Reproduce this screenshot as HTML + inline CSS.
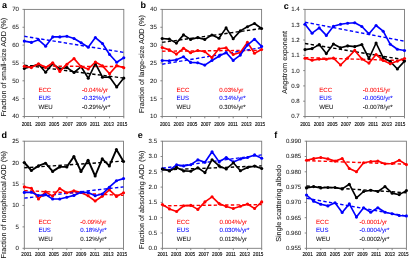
<!DOCTYPE html>
<html><head><meta charset="utf-8"><style>
html,body{margin:0;padding:0;background:#fff;}
body{width:409px;height:258px;overflow:hidden;position:relative;font-family:"Liberation Sans", sans-serif;}
svg text{font-family:"Liberation Sans", sans-serif;text-rendering:geometricPrecision;}
svg{filter:blur(0.3px);}
</style></head><body>
<svg width="409" height="258" viewBox="0 0 409 258" style="position:absolute;left:0;top:0">
<rect width="409" height="258" fill="#fff"/>
<rect x="24.3" y="9.4" width="99.50" height="107.10" fill="none" stroke="#7a7a7a" stroke-width="0.9"/>
<line x1="22.50" y1="9.40" x2="24.3" y2="9.40" stroke="#7a7a7a" stroke-width="0.9"/>
<text x="19.00" y="11.30" font-size="6.1" text-anchor="end" fill="#222" stroke="#222" stroke-width="0.05">70</text>
<line x1="22.50" y1="27.25" x2="24.3" y2="27.25" stroke="#7a7a7a" stroke-width="0.9"/>
<text x="19.00" y="29.15" font-size="6.1" text-anchor="end" fill="#222" stroke="#222" stroke-width="0.05">65</text>
<line x1="22.50" y1="45.10" x2="24.3" y2="45.10" stroke="#7a7a7a" stroke-width="0.9"/>
<text x="19.00" y="47.00" font-size="6.1" text-anchor="end" fill="#222" stroke="#222" stroke-width="0.05">60</text>
<line x1="22.50" y1="62.95" x2="24.3" y2="62.95" stroke="#7a7a7a" stroke-width="0.9"/>
<text x="19.00" y="64.85" font-size="6.1" text-anchor="end" fill="#222" stroke="#222" stroke-width="0.05">55</text>
<line x1="22.50" y1="80.80" x2="24.3" y2="80.80" stroke="#7a7a7a" stroke-width="0.9"/>
<text x="19.00" y="82.70" font-size="6.1" text-anchor="end" fill="#222" stroke="#222" stroke-width="0.05">50</text>
<line x1="22.50" y1="98.65" x2="24.3" y2="98.65" stroke="#7a7a7a" stroke-width="0.9"/>
<text x="19.00" y="100.55" font-size="6.1" text-anchor="end" fill="#222" stroke="#222" stroke-width="0.05">45</text>
<line x1="22.50" y1="116.50" x2="24.3" y2="116.50" stroke="#7a7a7a" stroke-width="0.9"/>
<text x="19.00" y="118.40" font-size="6.1" text-anchor="end" fill="#222" stroke="#222" stroke-width="0.05">40</text>
<line x1="24.30" y1="116.5" x2="24.30" y2="118.30" stroke="#7a7a7a" stroke-width="0.9"/>
<line x1="38.51" y1="116.5" x2="38.51" y2="118.30" stroke="#7a7a7a" stroke-width="0.9"/>
<line x1="52.73" y1="116.5" x2="52.73" y2="118.30" stroke="#7a7a7a" stroke-width="0.9"/>
<line x1="66.94" y1="116.5" x2="66.94" y2="118.30" stroke="#7a7a7a" stroke-width="0.9"/>
<line x1="81.16" y1="116.5" x2="81.16" y2="118.30" stroke="#7a7a7a" stroke-width="0.9"/>
<line x1="95.37" y1="116.5" x2="95.37" y2="118.30" stroke="#7a7a7a" stroke-width="0.9"/>
<line x1="109.59" y1="116.5" x2="109.59" y2="118.30" stroke="#7a7a7a" stroke-width="0.9"/>
<line x1="123.80" y1="116.5" x2="123.80" y2="118.30" stroke="#7a7a7a" stroke-width="0.9"/>
<text transform="translate(26.80,125.6) scale(0.86,1)" font-size="5.4" text-anchor="middle" fill="#000" stroke="#000" stroke-width="0.12" style="text-rendering:optimizeLegibility">2001</text>
<text transform="translate(40.43,125.6) scale(0.86,1)" font-size="5.4" text-anchor="middle" fill="#000" stroke="#000" stroke-width="0.12" style="text-rendering:optimizeLegibility">2003</text>
<text transform="translate(54.06,125.6) scale(0.86,1)" font-size="5.4" text-anchor="middle" fill="#000" stroke="#000" stroke-width="0.12" style="text-rendering:optimizeLegibility">2005</text>
<text transform="translate(67.69,125.6) scale(0.86,1)" font-size="5.4" text-anchor="middle" fill="#000" stroke="#000" stroke-width="0.12" style="text-rendering:optimizeLegibility">2007</text>
<text transform="translate(81.32,125.6) scale(0.86,1)" font-size="5.4" text-anchor="middle" fill="#000" stroke="#000" stroke-width="0.12" style="text-rendering:optimizeLegibility">2009</text>
<text transform="translate(94.95,125.6) scale(0.86,1)" font-size="5.4" text-anchor="middle" fill="#000" stroke="#000" stroke-width="0.12" style="text-rendering:optimizeLegibility">2011</text>
<text transform="translate(108.58,125.6) scale(0.86,1)" font-size="5.4" text-anchor="middle" fill="#000" stroke="#000" stroke-width="0.12" style="text-rendering:optimizeLegibility">2013</text>
<text transform="translate(122.21,125.6) scale(0.86,1)" font-size="5.4" text-anchor="middle" fill="#000" stroke="#000" stroke-width="0.12" style="text-rendering:optimizeLegibility">2015</text>
<text transform="translate(6.00,116.60) rotate(-90)" font-size="7.22" fill="#222" stroke="#222" stroke-width="0.08">Fraction of small-size AOD (%)</text>
<line x1="24.30" y1="66.0" x2="123.80" y2="66.6" stroke="#ff0000" stroke-width="1.4" stroke-dasharray="3.4 2.3"/>
<line x1="24.30" y1="36.3" x2="123.80" y2="52.4" stroke="#0000ff" stroke-width="1.4" stroke-dasharray="3.4 2.3"/>
<line x1="24.30" y1="65.2" x2="123.80" y2="78.1" stroke="#000000" stroke-width="1.4" stroke-dasharray="3.4 2.3"/>
<polyline points="24.30,41.10 31.41,42.40 38.51,39.80 45.62,46.20 52.73,36.90 59.84,36.90 66.94,36.30 74.05,38.50 81.16,42.80 88.26,47.20 95.37,37.60 102.48,43.50 109.59,54.50 116.69,62.20 123.80,57.80" fill="none" stroke="#0000ff" stroke-width="1.65" stroke-linejoin="round"/>
<circle cx="24.30" cy="41.10" r="1.55" fill="#0000ff"/>
<circle cx="31.41" cy="42.40" r="1.55" fill="#0000ff"/>
<circle cx="38.51" cy="39.80" r="1.55" fill="#0000ff"/>
<circle cx="45.62" cy="46.20" r="1.55" fill="#0000ff"/>
<circle cx="52.73" cy="36.90" r="1.55" fill="#0000ff"/>
<circle cx="59.84" cy="36.90" r="1.55" fill="#0000ff"/>
<circle cx="66.94" cy="36.30" r="1.55" fill="#0000ff"/>
<circle cx="74.05" cy="38.50" r="1.55" fill="#0000ff"/>
<circle cx="81.16" cy="42.80" r="1.55" fill="#0000ff"/>
<circle cx="88.26" cy="47.20" r="1.55" fill="#0000ff"/>
<circle cx="95.37" cy="37.60" r="1.55" fill="#0000ff"/>
<circle cx="102.48" cy="43.50" r="1.55" fill="#0000ff"/>
<circle cx="109.59" cy="54.50" r="1.55" fill="#0000ff"/>
<circle cx="116.69" cy="62.20" r="1.55" fill="#0000ff"/>
<circle cx="123.80" cy="57.80" r="1.55" fill="#0000ff"/>
<polyline points="24.30,68.50 31.41,66.50 38.51,64.30 45.62,72.30 52.73,63.80 59.84,68.80 66.94,67.60 74.05,72.50 81.16,66.70 88.26,78.30 95.37,63.50 102.48,77.20 109.59,77.00 116.69,86.90 123.80,78.10" fill="none" stroke="#000000" stroke-width="1.65" stroke-linejoin="round"/>
<circle cx="24.30" cy="68.50" r="1.55" fill="#000000"/>
<circle cx="31.41" cy="66.50" r="1.55" fill="#000000"/>
<circle cx="38.51" cy="64.30" r="1.55" fill="#000000"/>
<circle cx="45.62" cy="72.30" r="1.55" fill="#000000"/>
<circle cx="52.73" cy="63.80" r="1.55" fill="#000000"/>
<circle cx="59.84" cy="68.80" r="1.55" fill="#000000"/>
<circle cx="66.94" cy="67.60" r="1.55" fill="#000000"/>
<circle cx="74.05" cy="72.50" r="1.55" fill="#000000"/>
<circle cx="81.16" cy="66.70" r="1.55" fill="#000000"/>
<circle cx="88.26" cy="78.30" r="1.55" fill="#000000"/>
<circle cx="95.37" cy="63.50" r="1.55" fill="#000000"/>
<circle cx="102.48" cy="77.20" r="1.55" fill="#000000"/>
<circle cx="109.59" cy="77.00" r="1.55" fill="#000000"/>
<circle cx="116.69" cy="86.90" r="1.55" fill="#000000"/>
<circle cx="123.80" cy="78.10" r="1.55" fill="#000000"/>
<polyline points="24.30,66.30 31.41,67.60 38.51,63.80 45.62,67.60 52.73,62.80 59.84,71.40 66.94,64.20 74.05,58.60 81.16,66.70 88.26,69.00 95.37,62.00 102.48,65.90 109.59,73.80 116.69,65.60 123.80,67.80" fill="none" stroke="#ff0000" stroke-width="1.65" stroke-linejoin="round"/>
<circle cx="24.30" cy="66.30" r="1.55" fill="#ff0000"/>
<circle cx="31.41" cy="67.60" r="1.55" fill="#ff0000"/>
<circle cx="38.51" cy="63.80" r="1.55" fill="#ff0000"/>
<circle cx="45.62" cy="67.60" r="1.55" fill="#ff0000"/>
<circle cx="52.73" cy="62.80" r="1.55" fill="#ff0000"/>
<circle cx="59.84" cy="71.40" r="1.55" fill="#ff0000"/>
<circle cx="66.94" cy="64.20" r="1.55" fill="#ff0000"/>
<circle cx="74.05" cy="58.60" r="1.55" fill="#ff0000"/>
<circle cx="81.16" cy="66.70" r="1.55" fill="#ff0000"/>
<circle cx="88.26" cy="69.00" r="1.55" fill="#ff0000"/>
<circle cx="95.37" cy="62.00" r="1.55" fill="#ff0000"/>
<circle cx="102.48" cy="65.90" r="1.55" fill="#ff0000"/>
<circle cx="109.59" cy="73.80" r="1.55" fill="#ff0000"/>
<circle cx="116.69" cy="65.60" r="1.55" fill="#ff0000"/>
<circle cx="123.80" cy="67.80" r="1.55" fill="#ff0000"/>
<text x="38.4" y="91.50" font-size="6.1" fill="#ff0000" stroke="#ff0000" stroke-width="0.05">ECC</text>
<text x="82.0" y="91.50" font-size="6.1" fill="#ff0000" stroke="#ff0000" stroke-width="0.05">-0.04%/yr</text>
<text x="38.4" y="100.00" font-size="6.1" fill="#0000ff" stroke="#0000ff" stroke-width="0.05">EUS</text>
<text x="82.0" y="100.00" font-size="6.1" fill="#0000ff" stroke="#0000ff" stroke-width="0.05">-0.32%/yr*</text>
<text x="38.4" y="108.50" font-size="6.1" fill="#111" stroke="#111" stroke-width="0.05">WEU</text>
<text x="82.0" y="108.50" font-size="6.1" fill="#111" stroke="#111" stroke-width="0.05">-0.29%/yr*</text>
<text x="1.9" y="8.45" font-size="9.0" font-weight="bold" fill="#000">a</text>
<rect x="162.2" y="9.4" width="99.40" height="107.10" fill="none" stroke="#7a7a7a" stroke-width="0.9"/>
<line x1="160.40" y1="9.40" x2="162.2" y2="9.40" stroke="#7a7a7a" stroke-width="0.9"/>
<text x="156.90" y="11.30" font-size="6.1" text-anchor="end" fill="#222" stroke="#222" stroke-width="0.05">40</text>
<line x1="160.40" y1="27.25" x2="162.2" y2="27.25" stroke="#7a7a7a" stroke-width="0.9"/>
<text x="156.90" y="29.15" font-size="6.1" text-anchor="end" fill="#222" stroke="#222" stroke-width="0.05">35</text>
<line x1="160.40" y1="45.10" x2="162.2" y2="45.10" stroke="#7a7a7a" stroke-width="0.9"/>
<text x="156.90" y="47.00" font-size="6.1" text-anchor="end" fill="#222" stroke="#222" stroke-width="0.05">30</text>
<line x1="160.40" y1="62.95" x2="162.2" y2="62.95" stroke="#7a7a7a" stroke-width="0.9"/>
<text x="156.90" y="64.85" font-size="6.1" text-anchor="end" fill="#222" stroke="#222" stroke-width="0.05">25</text>
<line x1="160.40" y1="80.80" x2="162.2" y2="80.80" stroke="#7a7a7a" stroke-width="0.9"/>
<text x="156.90" y="82.70" font-size="6.1" text-anchor="end" fill="#222" stroke="#222" stroke-width="0.05">20</text>
<line x1="160.40" y1="98.65" x2="162.2" y2="98.65" stroke="#7a7a7a" stroke-width="0.9"/>
<text x="156.90" y="100.55" font-size="6.1" text-anchor="end" fill="#222" stroke="#222" stroke-width="0.05">15</text>
<line x1="160.40" y1="116.50" x2="162.2" y2="116.50" stroke="#7a7a7a" stroke-width="0.9"/>
<text x="156.90" y="118.40" font-size="6.1" text-anchor="end" fill="#222" stroke="#222" stroke-width="0.05">10</text>
<line x1="162.20" y1="116.5" x2="162.20" y2="118.30" stroke="#7a7a7a" stroke-width="0.9"/>
<line x1="176.40" y1="116.5" x2="176.40" y2="118.30" stroke="#7a7a7a" stroke-width="0.9"/>
<line x1="190.60" y1="116.5" x2="190.60" y2="118.30" stroke="#7a7a7a" stroke-width="0.9"/>
<line x1="204.80" y1="116.5" x2="204.80" y2="118.30" stroke="#7a7a7a" stroke-width="0.9"/>
<line x1="219.00" y1="116.5" x2="219.00" y2="118.30" stroke="#7a7a7a" stroke-width="0.9"/>
<line x1="233.20" y1="116.5" x2="233.20" y2="118.30" stroke="#7a7a7a" stroke-width="0.9"/>
<line x1="247.40" y1="116.5" x2="247.40" y2="118.30" stroke="#7a7a7a" stroke-width="0.9"/>
<line x1="261.60" y1="116.5" x2="261.60" y2="118.30" stroke="#7a7a7a" stroke-width="0.9"/>
<text transform="translate(165.10,125.6) scale(0.86,1)" font-size="5.4" text-anchor="middle" fill="#000" stroke="#000" stroke-width="0.12" style="text-rendering:optimizeLegibility">2001</text>
<text transform="translate(178.66,125.6) scale(0.86,1)" font-size="5.4" text-anchor="middle" fill="#000" stroke="#000" stroke-width="0.12" style="text-rendering:optimizeLegibility">2003</text>
<text transform="translate(192.22,125.6) scale(0.86,1)" font-size="5.4" text-anchor="middle" fill="#000" stroke="#000" stroke-width="0.12" style="text-rendering:optimizeLegibility">2005</text>
<text transform="translate(205.78,125.6) scale(0.86,1)" font-size="5.4" text-anchor="middle" fill="#000" stroke="#000" stroke-width="0.12" style="text-rendering:optimizeLegibility">2007</text>
<text transform="translate(219.34,125.6) scale(0.86,1)" font-size="5.4" text-anchor="middle" fill="#000" stroke="#000" stroke-width="0.12" style="text-rendering:optimizeLegibility">2009</text>
<text transform="translate(232.90,125.6) scale(0.86,1)" font-size="5.4" text-anchor="middle" fill="#000" stroke="#000" stroke-width="0.12" style="text-rendering:optimizeLegibility">2011</text>
<text transform="translate(246.46,125.6) scale(0.86,1)" font-size="5.4" text-anchor="middle" fill="#000" stroke="#000" stroke-width="0.12" style="text-rendering:optimizeLegibility">2013</text>
<text transform="translate(260.02,125.6) scale(0.86,1)" font-size="5.4" text-anchor="middle" fill="#000" stroke="#000" stroke-width="0.12" style="text-rendering:optimizeLegibility">2015</text>
<text transform="translate(144.30,113.10) rotate(-90)" font-size="7.22" fill="#222" stroke="#222" stroke-width="0.08">Fraction of large-size AOD (%)</text>
<line x1="162.20" y1="51.2" x2="261.60" y2="50.3" stroke="#ff0000" stroke-width="1.4" stroke-dasharray="3.4 2.3"/>
<line x1="162.20" y1="64.2" x2="261.60" y2="47.6" stroke="#0000ff" stroke-width="1.4" stroke-dasharray="3.4 2.3"/>
<line x1="162.20" y1="42.4" x2="261.60" y2="28.5" stroke="#000000" stroke-width="1.4" stroke-dasharray="3.4 2.3"/>
<polyline points="162.20,38.50 169.30,39.10 176.40,43.10 183.50,34.90 190.60,39.40 197.70,37.60 204.80,39.40 211.90,35.00 219.00,38.20 226.10,27.90 233.20,38.80 240.30,30.90 247.40,26.80 254.50,23.50 261.60,28.50" fill="none" stroke="#000000" stroke-width="1.65" stroke-linejoin="round"/>
<circle cx="162.20" cy="38.50" r="1.55" fill="#000000"/>
<circle cx="169.30" cy="39.10" r="1.55" fill="#000000"/>
<circle cx="176.40" cy="43.10" r="1.55" fill="#000000"/>
<circle cx="183.50" cy="34.90" r="1.55" fill="#000000"/>
<circle cx="190.60" cy="39.40" r="1.55" fill="#000000"/>
<circle cx="197.70" cy="37.60" r="1.55" fill="#000000"/>
<circle cx="204.80" cy="39.40" r="1.55" fill="#000000"/>
<circle cx="211.90" cy="35.00" r="1.55" fill="#000000"/>
<circle cx="219.00" cy="38.20" r="1.55" fill="#000000"/>
<circle cx="226.10" cy="27.90" r="1.55" fill="#000000"/>
<circle cx="233.20" cy="38.80" r="1.55" fill="#000000"/>
<circle cx="240.30" cy="30.90" r="1.55" fill="#000000"/>
<circle cx="247.40" cy="26.80" r="1.55" fill="#000000"/>
<circle cx="254.50" cy="23.50" r="1.55" fill="#000000"/>
<circle cx="261.60" cy="28.50" r="1.55" fill="#000000"/>
<polyline points="162.20,47.50 169.30,49.90 176.40,54.10 183.50,48.30 190.60,52.80 197.70,50.50 204.80,51.60 211.90,57.60 219.00,48.80 226.10,47.90 233.20,54.50 240.30,52.50 247.40,42.40 254.50,53.20 261.60,49.50" fill="none" stroke="#ff0000" stroke-width="1.65" stroke-linejoin="round"/>
<circle cx="162.20" cy="47.50" r="1.55" fill="#ff0000"/>
<circle cx="169.30" cy="49.90" r="1.55" fill="#ff0000"/>
<circle cx="176.40" cy="54.10" r="1.55" fill="#ff0000"/>
<circle cx="183.50" cy="48.30" r="1.55" fill="#ff0000"/>
<circle cx="190.60" cy="52.80" r="1.55" fill="#ff0000"/>
<circle cx="197.70" cy="50.50" r="1.55" fill="#ff0000"/>
<circle cx="204.80" cy="51.60" r="1.55" fill="#ff0000"/>
<circle cx="211.90" cy="57.60" r="1.55" fill="#ff0000"/>
<circle cx="219.00" cy="48.80" r="1.55" fill="#ff0000"/>
<circle cx="226.10" cy="47.90" r="1.55" fill="#ff0000"/>
<circle cx="233.20" cy="54.50" r="1.55" fill="#ff0000"/>
<circle cx="240.30" cy="52.50" r="1.55" fill="#ff0000"/>
<circle cx="247.40" cy="42.40" r="1.55" fill="#ff0000"/>
<circle cx="254.50" cy="53.20" r="1.55" fill="#ff0000"/>
<circle cx="261.60" cy="49.50" r="1.55" fill="#ff0000"/>
<polyline points="162.20,60.50 169.30,60.70 176.40,59.80 183.50,56.80 190.60,62.40 197.70,62.80 204.80,65.10 211.90,60.50 219.00,56.20 226.10,52.50 233.20,60.40 240.30,55.10 247.40,45.10 254.50,39.20 261.60,46.40" fill="none" stroke="#0000ff" stroke-width="1.65" stroke-linejoin="round"/>
<circle cx="162.20" cy="60.50" r="1.55" fill="#0000ff"/>
<circle cx="169.30" cy="60.70" r="1.55" fill="#0000ff"/>
<circle cx="176.40" cy="59.80" r="1.55" fill="#0000ff"/>
<circle cx="183.50" cy="56.80" r="1.55" fill="#0000ff"/>
<circle cx="190.60" cy="62.40" r="1.55" fill="#0000ff"/>
<circle cx="197.70" cy="62.80" r="1.55" fill="#0000ff"/>
<circle cx="204.80" cy="65.10" r="1.55" fill="#0000ff"/>
<circle cx="211.90" cy="60.50" r="1.55" fill="#0000ff"/>
<circle cx="219.00" cy="56.20" r="1.55" fill="#0000ff"/>
<circle cx="226.10" cy="52.50" r="1.55" fill="#0000ff"/>
<circle cx="233.20" cy="60.40" r="1.55" fill="#0000ff"/>
<circle cx="240.30" cy="55.10" r="1.55" fill="#0000ff"/>
<circle cx="247.40" cy="45.10" r="1.55" fill="#0000ff"/>
<circle cx="254.50" cy="39.20" r="1.55" fill="#0000ff"/>
<circle cx="261.60" cy="46.40" r="1.55" fill="#0000ff"/>
<text x="176.5" y="91.50" font-size="6.1" fill="#ff0000" stroke="#ff0000" stroke-width="0.05">ECC</text>
<text x="219.2" y="91.50" font-size="6.1" fill="#ff0000" stroke="#ff0000" stroke-width="0.05">0.03%/yr</text>
<text x="176.5" y="100.00" font-size="6.1" fill="#0000ff" stroke="#0000ff" stroke-width="0.05">EUS</text>
<text x="219.2" y="100.00" font-size="6.1" fill="#0000ff" stroke="#0000ff" stroke-width="0.05">0.34%/yr*</text>
<text x="176.5" y="108.50" font-size="6.1" fill="#111" stroke="#111" stroke-width="0.05">WEU</text>
<text x="219.2" y="108.50" font-size="6.1" fill="#111" stroke="#111" stroke-width="0.05">0.30%/yr*</text>
<text x="140.6" y="8.2" font-size="9.0" font-weight="bold" fill="#000">b</text>
<rect x="305.0" y="9.4" width="99.50" height="107.10" fill="none" stroke="#7a7a7a" stroke-width="0.9"/>
<line x1="303.20" y1="9.40" x2="305.0" y2="9.40" stroke="#7a7a7a" stroke-width="0.9"/>
<text x="299.70" y="11.30" font-size="6.1" text-anchor="end" fill="#222" stroke="#222" stroke-width="0.05">1.4</text>
<line x1="303.20" y1="24.70" x2="305.0" y2="24.70" stroke="#7a7a7a" stroke-width="0.9"/>
<text x="299.70" y="26.60" font-size="6.1" text-anchor="end" fill="#222" stroke="#222" stroke-width="0.05">1.3</text>
<line x1="303.20" y1="40.00" x2="305.0" y2="40.00" stroke="#7a7a7a" stroke-width="0.9"/>
<text x="299.70" y="41.90" font-size="6.1" text-anchor="end" fill="#222" stroke="#222" stroke-width="0.05">1.2</text>
<line x1="303.20" y1="55.30" x2="305.0" y2="55.30" stroke="#7a7a7a" stroke-width="0.9"/>
<text x="299.70" y="57.20" font-size="6.1" text-anchor="end" fill="#222" stroke="#222" stroke-width="0.05">1.1</text>
<line x1="303.20" y1="70.60" x2="305.0" y2="70.60" stroke="#7a7a7a" stroke-width="0.9"/>
<text x="299.70" y="72.50" font-size="6.1" text-anchor="end" fill="#222" stroke="#222" stroke-width="0.05">1.0</text>
<line x1="303.20" y1="85.90" x2="305.0" y2="85.90" stroke="#7a7a7a" stroke-width="0.9"/>
<text x="299.70" y="87.80" font-size="6.1" text-anchor="end" fill="#222" stroke="#222" stroke-width="0.05">0.9</text>
<line x1="303.20" y1="101.20" x2="305.0" y2="101.20" stroke="#7a7a7a" stroke-width="0.9"/>
<text x="299.70" y="103.10" font-size="6.1" text-anchor="end" fill="#222" stroke="#222" stroke-width="0.05">0.8</text>
<line x1="303.20" y1="116.50" x2="305.0" y2="116.50" stroke="#7a7a7a" stroke-width="0.9"/>
<text x="299.70" y="118.40" font-size="6.1" text-anchor="end" fill="#222" stroke="#222" stroke-width="0.05">0.7</text>
<line x1="305.00" y1="116.5" x2="305.00" y2="118.30" stroke="#7a7a7a" stroke-width="0.9"/>
<line x1="319.21" y1="116.5" x2="319.21" y2="118.30" stroke="#7a7a7a" stroke-width="0.9"/>
<line x1="333.43" y1="116.5" x2="333.43" y2="118.30" stroke="#7a7a7a" stroke-width="0.9"/>
<line x1="347.64" y1="116.5" x2="347.64" y2="118.30" stroke="#7a7a7a" stroke-width="0.9"/>
<line x1="361.86" y1="116.5" x2="361.86" y2="118.30" stroke="#7a7a7a" stroke-width="0.9"/>
<line x1="376.07" y1="116.5" x2="376.07" y2="118.30" stroke="#7a7a7a" stroke-width="0.9"/>
<line x1="390.29" y1="116.5" x2="390.29" y2="118.30" stroke="#7a7a7a" stroke-width="0.9"/>
<line x1="404.50" y1="116.5" x2="404.50" y2="118.30" stroke="#7a7a7a" stroke-width="0.9"/>
<text transform="translate(305.30,125.6) scale(0.86,1)" font-size="5.4" text-anchor="middle" fill="#000" stroke="#000" stroke-width="0.12" style="text-rendering:optimizeLegibility">2001</text>
<text transform="translate(318.86,125.6) scale(0.86,1)" font-size="5.4" text-anchor="middle" fill="#000" stroke="#000" stroke-width="0.12" style="text-rendering:optimizeLegibility">2003</text>
<text transform="translate(332.42,125.6) scale(0.86,1)" font-size="5.4" text-anchor="middle" fill="#000" stroke="#000" stroke-width="0.12" style="text-rendering:optimizeLegibility">2005</text>
<text transform="translate(345.98,125.6) scale(0.86,1)" font-size="5.4" text-anchor="middle" fill="#000" stroke="#000" stroke-width="0.12" style="text-rendering:optimizeLegibility">2007</text>
<text transform="translate(359.54,125.6) scale(0.86,1)" font-size="5.4" text-anchor="middle" fill="#000" stroke="#000" stroke-width="0.12" style="text-rendering:optimizeLegibility">2009</text>
<text transform="translate(373.10,125.6) scale(0.86,1)" font-size="5.4" text-anchor="middle" fill="#000" stroke="#000" stroke-width="0.12" style="text-rendering:optimizeLegibility">2011</text>
<text transform="translate(386.66,125.6) scale(0.86,1)" font-size="5.4" text-anchor="middle" fill="#000" stroke="#000" stroke-width="0.12" style="text-rendering:optimizeLegibility">2013</text>
<text transform="translate(400.22,125.6) scale(0.86,1)" font-size="5.4" text-anchor="middle" fill="#000" stroke="#000" stroke-width="0.12" style="text-rendering:optimizeLegibility">2015</text>
<text transform="translate(286.80,93.70) rotate(-90)" font-size="7.22" fill="#222" stroke="#222" stroke-width="0.08">Angstrom exponent</text>
<line x1="305.00" y1="57.6" x2="404.50" y2="60.6" stroke="#ff0000" stroke-width="1.4" stroke-dasharray="3.4 2.3"/>
<line x1="305.00" y1="22.2" x2="404.50" y2="41.2" stroke="#0000ff" stroke-width="1.4" stroke-dasharray="3.4 2.3"/>
<line x1="305.00" y1="43.5" x2="404.50" y2="59.8" stroke="#000000" stroke-width="1.4" stroke-dasharray="3.4 2.3"/>
<polyline points="305.00,24.30 312.11,33.20 319.21,27.90 326.32,35.40 333.43,26.20 340.54,24.20 347.64,23.20 354.75,22.80 361.86,26.50 368.96,33.80 376.07,25.50 383.18,31.20 390.29,44.30 397.39,49.20 404.50,50.50" fill="none" stroke="#0000ff" stroke-width="1.65" stroke-linejoin="round"/>
<circle cx="305.00" cy="24.30" r="1.55" fill="#0000ff"/>
<circle cx="312.11" cy="33.20" r="1.55" fill="#0000ff"/>
<circle cx="319.21" cy="27.90" r="1.55" fill="#0000ff"/>
<circle cx="326.32" cy="35.40" r="1.55" fill="#0000ff"/>
<circle cx="333.43" cy="26.20" r="1.55" fill="#0000ff"/>
<circle cx="340.54" cy="24.20" r="1.55" fill="#0000ff"/>
<circle cx="347.64" cy="23.20" r="1.55" fill="#0000ff"/>
<circle cx="354.75" cy="22.80" r="1.55" fill="#0000ff"/>
<circle cx="361.86" cy="26.50" r="1.55" fill="#0000ff"/>
<circle cx="368.96" cy="33.80" r="1.55" fill="#0000ff"/>
<circle cx="376.07" cy="25.50" r="1.55" fill="#0000ff"/>
<circle cx="383.18" cy="31.20" r="1.55" fill="#0000ff"/>
<circle cx="390.29" cy="44.30" r="1.55" fill="#0000ff"/>
<circle cx="397.39" cy="49.20" r="1.55" fill="#0000ff"/>
<circle cx="404.50" cy="50.50" r="1.55" fill="#0000ff"/>
<polyline points="305.00,49.60 312.11,48.60 319.21,44.60 326.32,53.60 333.43,44.00 340.54,47.70 347.64,45.90 354.75,46.60 361.86,44.60 368.96,58.50 376.07,43.00 383.18,57.60 390.29,61.50 397.39,69.00 404.50,61.10" fill="none" stroke="#000000" stroke-width="1.65" stroke-linejoin="round"/>
<circle cx="305.00" cy="49.60" r="1.55" fill="#000000"/>
<circle cx="312.11" cy="48.60" r="1.55" fill="#000000"/>
<circle cx="319.21" cy="44.60" r="1.55" fill="#000000"/>
<circle cx="326.32" cy="53.60" r="1.55" fill="#000000"/>
<circle cx="333.43" cy="44.00" r="1.55" fill="#000000"/>
<circle cx="340.54" cy="47.70" r="1.55" fill="#000000"/>
<circle cx="347.64" cy="45.90" r="1.55" fill="#000000"/>
<circle cx="354.75" cy="46.60" r="1.55" fill="#000000"/>
<circle cx="361.86" cy="44.60" r="1.55" fill="#000000"/>
<circle cx="368.96" cy="58.50" r="1.55" fill="#000000"/>
<circle cx="376.07" cy="43.00" r="1.55" fill="#000000"/>
<circle cx="383.18" cy="57.60" r="1.55" fill="#000000"/>
<circle cx="390.29" cy="61.50" r="1.55" fill="#000000"/>
<circle cx="397.39" cy="69.00" r="1.55" fill="#000000"/>
<circle cx="404.50" cy="61.10" r="1.55" fill="#000000"/>
<polyline points="305.00,58.20 312.11,60.20 319.21,59.10 326.32,59.30 333.43,58.10 340.54,65.00 347.64,58.00 354.75,50.40 361.86,59.10 368.96,63.10 376.07,54.50 383.18,60.50 390.29,63.80 397.39,61.10 404.50,58.50" fill="none" stroke="#ff0000" stroke-width="1.65" stroke-linejoin="round"/>
<circle cx="305.00" cy="58.20" r="1.55" fill="#ff0000"/>
<circle cx="312.11" cy="60.20" r="1.55" fill="#ff0000"/>
<circle cx="319.21" cy="59.10" r="1.55" fill="#ff0000"/>
<circle cx="326.32" cy="59.30" r="1.55" fill="#ff0000"/>
<circle cx="333.43" cy="58.10" r="1.55" fill="#ff0000"/>
<circle cx="340.54" cy="65.00" r="1.55" fill="#ff0000"/>
<circle cx="347.64" cy="58.00" r="1.55" fill="#ff0000"/>
<circle cx="354.75" cy="50.40" r="1.55" fill="#ff0000"/>
<circle cx="361.86" cy="59.10" r="1.55" fill="#ff0000"/>
<circle cx="368.96" cy="63.10" r="1.55" fill="#ff0000"/>
<circle cx="376.07" cy="54.50" r="1.55" fill="#ff0000"/>
<circle cx="383.18" cy="60.50" r="1.55" fill="#ff0000"/>
<circle cx="390.29" cy="63.80" r="1.55" fill="#ff0000"/>
<circle cx="397.39" cy="61.10" r="1.55" fill="#ff0000"/>
<circle cx="404.50" cy="58.50" r="1.55" fill="#ff0000"/>
<text x="319.3" y="91.50" font-size="6.1" fill="#ff0000" stroke="#ff0000" stroke-width="0.05">ECC</text>
<text x="362.8" y="91.50" font-size="6.1" fill="#ff0000" stroke="#ff0000" stroke-width="0.05">-0.0015/yr</text>
<text x="319.3" y="100.00" font-size="6.1" fill="#0000ff" stroke="#0000ff" stroke-width="0.05">EUS</text>
<text x="362.8" y="100.00" font-size="6.1" fill="#0000ff" stroke="#0000ff" stroke-width="0.05">-0.0050/yr*</text>
<text x="319.3" y="108.50" font-size="6.1" fill="#111" stroke="#111" stroke-width="0.05">WEU</text>
<text x="362.8" y="108.50" font-size="6.1" fill="#111" stroke="#111" stroke-width="0.05">-0.0078/yr*</text>
<text x="283.8" y="8.6" font-size="9.0" font-weight="bold" fill="#000">c</text>
<rect x="24.3" y="141.2" width="99.20" height="107.10" fill="none" stroke="#7a7a7a" stroke-width="0.9"/>
<line x1="22.50" y1="141.20" x2="24.3" y2="141.20" stroke="#7a7a7a" stroke-width="0.9"/>
<text x="19.00" y="143.10" font-size="6.1" text-anchor="end" fill="#222" stroke="#222" stroke-width="0.05">25</text>
<line x1="22.50" y1="162.62" x2="24.3" y2="162.62" stroke="#7a7a7a" stroke-width="0.9"/>
<text x="19.00" y="164.52" font-size="6.1" text-anchor="end" fill="#222" stroke="#222" stroke-width="0.05">20</text>
<line x1="22.50" y1="184.04" x2="24.3" y2="184.04" stroke="#7a7a7a" stroke-width="0.9"/>
<text x="19.00" y="185.94" font-size="6.1" text-anchor="end" fill="#222" stroke="#222" stroke-width="0.05">15</text>
<line x1="22.50" y1="205.46" x2="24.3" y2="205.46" stroke="#7a7a7a" stroke-width="0.9"/>
<text x="19.00" y="207.36" font-size="6.1" text-anchor="end" fill="#222" stroke="#222" stroke-width="0.05">10</text>
<line x1="22.50" y1="226.88" x2="24.3" y2="226.88" stroke="#7a7a7a" stroke-width="0.9"/>
<text x="19.00" y="228.78" font-size="6.1" text-anchor="end" fill="#222" stroke="#222" stroke-width="0.05">5</text>
<line x1="22.50" y1="248.30" x2="24.3" y2="248.30" stroke="#7a7a7a" stroke-width="0.9"/>
<text x="19.00" y="250.20" font-size="6.1" text-anchor="end" fill="#222" stroke="#222" stroke-width="0.05">0</text>
<line x1="24.30" y1="248.3" x2="24.30" y2="250.10" stroke="#7a7a7a" stroke-width="0.9"/>
<line x1="38.47" y1="248.3" x2="38.47" y2="250.10" stroke="#7a7a7a" stroke-width="0.9"/>
<line x1="52.64" y1="248.3" x2="52.64" y2="250.10" stroke="#7a7a7a" stroke-width="0.9"/>
<line x1="66.81" y1="248.3" x2="66.81" y2="250.10" stroke="#7a7a7a" stroke-width="0.9"/>
<line x1="80.99" y1="248.3" x2="80.99" y2="250.10" stroke="#7a7a7a" stroke-width="0.9"/>
<line x1="95.16" y1="248.3" x2="95.16" y2="250.10" stroke="#7a7a7a" stroke-width="0.9"/>
<line x1="109.33" y1="248.3" x2="109.33" y2="250.10" stroke="#7a7a7a" stroke-width="0.9"/>
<line x1="123.50" y1="248.3" x2="123.50" y2="250.10" stroke="#7a7a7a" stroke-width="0.9"/>
<text transform="translate(26.50,256.1) scale(0.86,1)" font-size="5.4" text-anchor="middle" fill="#000" stroke="#000" stroke-width="0.12" style="text-rendering:optimizeLegibility">2001</text>
<text transform="translate(40.14,256.1) scale(0.86,1)" font-size="5.4" text-anchor="middle" fill="#000" stroke="#000" stroke-width="0.12" style="text-rendering:optimizeLegibility">2003</text>
<text transform="translate(53.78,256.1) scale(0.86,1)" font-size="5.4" text-anchor="middle" fill="#000" stroke="#000" stroke-width="0.12" style="text-rendering:optimizeLegibility">2005</text>
<text transform="translate(67.42,256.1) scale(0.86,1)" font-size="5.4" text-anchor="middle" fill="#000" stroke="#000" stroke-width="0.12" style="text-rendering:optimizeLegibility">2007</text>
<text transform="translate(81.06,256.1) scale(0.86,1)" font-size="5.4" text-anchor="middle" fill="#000" stroke="#000" stroke-width="0.12" style="text-rendering:optimizeLegibility">2009</text>
<text transform="translate(94.70,256.1) scale(0.86,1)" font-size="5.4" text-anchor="middle" fill="#000" stroke="#000" stroke-width="0.12" style="text-rendering:optimizeLegibility">2011</text>
<text transform="translate(108.34,256.1) scale(0.86,1)" font-size="5.4" text-anchor="middle" fill="#000" stroke="#000" stroke-width="0.12" style="text-rendering:optimizeLegibility">2013</text>
<text transform="translate(121.98,256.1) scale(0.86,1)" font-size="5.4" text-anchor="middle" fill="#000" stroke="#000" stroke-width="0.12" style="text-rendering:optimizeLegibility">2015</text>
<text transform="translate(6.00,258.50) rotate(-90)" font-size="7.22" fill="#222" stroke="#222" stroke-width="0.08">Fraction of nonspherical AOD (%)</text>
<line x1="24.30" y1="190.6" x2="123.50" y2="195.4" stroke="#ff0000" stroke-width="1.4" stroke-dasharray="3.4 2.3"/>
<line x1="24.30" y1="198.1" x2="123.50" y2="186.9" stroke="#0000ff" stroke-width="1.4" stroke-dasharray="3.4 2.3"/>
<line x1="24.30" y1="167.8" x2="123.50" y2="161.1" stroke="#000000" stroke-width="1.4" stroke-dasharray="3.4 2.3"/>
<polyline points="24.30,162.50 31.39,170.50 38.47,165.90 45.56,163.20 52.64,171.40 59.73,166.90 66.81,166.90 73.90,156.50 80.99,171.40 88.07,160.20 95.16,176.00 102.24,158.90 109.33,165.90 116.41,149.60 123.50,161.50" fill="none" stroke="#000000" stroke-width="1.9" stroke-linejoin="round"/>
<circle cx="24.30" cy="162.50" r="1.55" fill="#000000"/>
<circle cx="31.39" cy="170.50" r="1.55" fill="#000000"/>
<circle cx="38.47" cy="165.90" r="1.55" fill="#000000"/>
<circle cx="45.56" cy="163.20" r="1.55" fill="#000000"/>
<circle cx="52.64" cy="171.40" r="1.55" fill="#000000"/>
<circle cx="59.73" cy="166.90" r="1.55" fill="#000000"/>
<circle cx="66.81" cy="166.90" r="1.55" fill="#000000"/>
<circle cx="73.90" cy="156.50" r="1.55" fill="#000000"/>
<circle cx="80.99" cy="171.40" r="1.55" fill="#000000"/>
<circle cx="88.07" cy="160.20" r="1.55" fill="#000000"/>
<circle cx="95.16" cy="176.00" r="1.55" fill="#000000"/>
<circle cx="102.24" cy="158.90" r="1.55" fill="#000000"/>
<circle cx="109.33" cy="165.90" r="1.55" fill="#000000"/>
<circle cx="116.41" cy="149.60" r="1.55" fill="#000000"/>
<circle cx="123.50" cy="161.50" r="1.55" fill="#000000"/>
<polyline points="24.30,186.90 31.39,188.20 38.47,199.00 45.56,191.90 52.64,196.10 59.73,188.50 66.81,192.80 73.90,190.90 80.99,192.50 88.07,195.80 95.16,201.00 102.24,196.20 109.33,189.80 116.41,196.40 123.50,192.70" fill="none" stroke="#ff0000" stroke-width="1.65" stroke-linejoin="round"/>
<circle cx="24.30" cy="186.90" r="1.55" fill="#ff0000"/>
<circle cx="31.39" cy="188.20" r="1.55" fill="#ff0000"/>
<circle cx="38.47" cy="199.00" r="1.55" fill="#ff0000"/>
<circle cx="45.56" cy="191.90" r="1.55" fill="#ff0000"/>
<circle cx="52.64" cy="196.10" r="1.55" fill="#ff0000"/>
<circle cx="59.73" cy="188.50" r="1.55" fill="#ff0000"/>
<circle cx="66.81" cy="192.80" r="1.55" fill="#ff0000"/>
<circle cx="73.90" cy="190.90" r="1.55" fill="#ff0000"/>
<circle cx="80.99" cy="192.50" r="1.55" fill="#ff0000"/>
<circle cx="88.07" cy="195.80" r="1.55" fill="#ff0000"/>
<circle cx="95.16" cy="201.00" r="1.55" fill="#ff0000"/>
<circle cx="102.24" cy="196.20" r="1.55" fill="#ff0000"/>
<circle cx="109.33" cy="189.80" r="1.55" fill="#ff0000"/>
<circle cx="116.41" cy="196.40" r="1.55" fill="#ff0000"/>
<circle cx="123.50" cy="192.70" r="1.55" fill="#ff0000"/>
<polyline points="24.30,192.40 31.39,192.20 38.47,195.50 45.56,194.60 52.64,199.00 59.73,199.00 66.81,197.20 73.90,195.40 80.99,192.20 88.07,192.50 95.16,195.80 102.24,194.00 109.33,187.20 116.41,180.80 123.50,178.60" fill="none" stroke="#0000ff" stroke-width="1.65" stroke-linejoin="round"/>
<circle cx="24.30" cy="192.40" r="1.55" fill="#0000ff"/>
<circle cx="31.39" cy="192.20" r="1.55" fill="#0000ff"/>
<circle cx="38.47" cy="195.50" r="1.55" fill="#0000ff"/>
<circle cx="45.56" cy="194.60" r="1.55" fill="#0000ff"/>
<circle cx="52.64" cy="199.00" r="1.55" fill="#0000ff"/>
<circle cx="59.73" cy="199.00" r="1.55" fill="#0000ff"/>
<circle cx="66.81" cy="197.20" r="1.55" fill="#0000ff"/>
<circle cx="73.90" cy="195.40" r="1.55" fill="#0000ff"/>
<circle cx="80.99" cy="192.20" r="1.55" fill="#0000ff"/>
<circle cx="88.07" cy="192.50" r="1.55" fill="#0000ff"/>
<circle cx="95.16" cy="195.80" r="1.55" fill="#0000ff"/>
<circle cx="102.24" cy="194.00" r="1.55" fill="#0000ff"/>
<circle cx="109.33" cy="187.20" r="1.55" fill="#0000ff"/>
<circle cx="116.41" cy="180.80" r="1.55" fill="#0000ff"/>
<circle cx="123.50" cy="178.60" r="1.55" fill="#0000ff"/>
<text x="38.4" y="223.80" font-size="6.1" fill="#ff0000" stroke="#ff0000" stroke-width="0.05">ECC</text>
<text x="80.3" y="223.80" font-size="6.1" fill="#ff0000" stroke="#ff0000" stroke-width="0.05">-0.09%/yr</text>
<text x="38.4" y="232.30" font-size="6.1" fill="#0000ff" stroke="#0000ff" stroke-width="0.05">EUS</text>
<text x="80.3" y="232.30" font-size="6.1" fill="#0000ff" stroke="#0000ff" stroke-width="0.05">0.18%/yr*</text>
<text x="38.4" y="240.80" font-size="6.1" fill="#111" stroke="#111" stroke-width="0.05">WEU</text>
<text x="80.3" y="240.80" font-size="6.1" fill="#111" stroke="#111" stroke-width="0.05">0.12%/yr*</text>
<text x="1.6" y="137.8" font-size="9.0" font-weight="bold" fill="#000">d</text>
<rect x="162.4" y="141.2" width="99.30" height="107.10" fill="none" stroke="#7a7a7a" stroke-width="0.9"/>
<line x1="160.60" y1="141.20" x2="162.4" y2="141.20" stroke="#7a7a7a" stroke-width="0.9"/>
<text x="157.10" y="143.10" font-size="6.1" text-anchor="end" fill="#222" stroke="#222" stroke-width="0.05">3.5</text>
<line x1="160.60" y1="156.50" x2="162.4" y2="156.50" stroke="#7a7a7a" stroke-width="0.9"/>
<text x="157.10" y="158.40" font-size="6.1" text-anchor="end" fill="#222" stroke="#222" stroke-width="0.05">3.0</text>
<line x1="160.60" y1="171.80" x2="162.4" y2="171.80" stroke="#7a7a7a" stroke-width="0.9"/>
<text x="157.10" y="173.70" font-size="6.1" text-anchor="end" fill="#222" stroke="#222" stroke-width="0.05">2.5</text>
<line x1="160.60" y1="187.10" x2="162.4" y2="187.10" stroke="#7a7a7a" stroke-width="0.9"/>
<text x="157.10" y="189.00" font-size="6.1" text-anchor="end" fill="#222" stroke="#222" stroke-width="0.05">2.0</text>
<line x1="160.60" y1="202.40" x2="162.4" y2="202.40" stroke="#7a7a7a" stroke-width="0.9"/>
<text x="157.10" y="204.30" font-size="6.1" text-anchor="end" fill="#222" stroke="#222" stroke-width="0.05">1.5</text>
<line x1="160.60" y1="217.70" x2="162.4" y2="217.70" stroke="#7a7a7a" stroke-width="0.9"/>
<text x="157.10" y="219.60" font-size="6.1" text-anchor="end" fill="#222" stroke="#222" stroke-width="0.05">1.0</text>
<line x1="160.60" y1="233.00" x2="162.4" y2="233.00" stroke="#7a7a7a" stroke-width="0.9"/>
<text x="157.10" y="234.90" font-size="6.1" text-anchor="end" fill="#222" stroke="#222" stroke-width="0.05">0.5</text>
<line x1="160.60" y1="248.30" x2="162.4" y2="248.30" stroke="#7a7a7a" stroke-width="0.9"/>
<text x="157.10" y="250.20" font-size="6.1" text-anchor="end" fill="#222" stroke="#222" stroke-width="0.05">0.0</text>
<line x1="162.40" y1="248.3" x2="162.40" y2="250.10" stroke="#7a7a7a" stroke-width="0.9"/>
<line x1="176.59" y1="248.3" x2="176.59" y2="250.10" stroke="#7a7a7a" stroke-width="0.9"/>
<line x1="190.77" y1="248.3" x2="190.77" y2="250.10" stroke="#7a7a7a" stroke-width="0.9"/>
<line x1="204.96" y1="248.3" x2="204.96" y2="250.10" stroke="#7a7a7a" stroke-width="0.9"/>
<line x1="219.14" y1="248.3" x2="219.14" y2="250.10" stroke="#7a7a7a" stroke-width="0.9"/>
<line x1="233.33" y1="248.3" x2="233.33" y2="250.10" stroke="#7a7a7a" stroke-width="0.9"/>
<line x1="247.51" y1="248.3" x2="247.51" y2="250.10" stroke="#7a7a7a" stroke-width="0.9"/>
<line x1="261.70" y1="248.3" x2="261.70" y2="250.10" stroke="#7a7a7a" stroke-width="0.9"/>
<text transform="translate(162.60,256.1) scale(0.86,1)" font-size="5.4" text-anchor="middle" fill="#000" stroke="#000" stroke-width="0.12" style="text-rendering:optimizeLegibility">2001</text>
<text transform="translate(176.26,256.1) scale(0.86,1)" font-size="5.4" text-anchor="middle" fill="#000" stroke="#000" stroke-width="0.12" style="text-rendering:optimizeLegibility">2003</text>
<text transform="translate(189.92,256.1) scale(0.86,1)" font-size="5.4" text-anchor="middle" fill="#000" stroke="#000" stroke-width="0.12" style="text-rendering:optimizeLegibility">2005</text>
<text transform="translate(203.58,256.1) scale(0.86,1)" font-size="5.4" text-anchor="middle" fill="#000" stroke="#000" stroke-width="0.12" style="text-rendering:optimizeLegibility">2007</text>
<text transform="translate(217.24,256.1) scale(0.86,1)" font-size="5.4" text-anchor="middle" fill="#000" stroke="#000" stroke-width="0.12" style="text-rendering:optimizeLegibility">2009</text>
<text transform="translate(230.90,256.1) scale(0.86,1)" font-size="5.4" text-anchor="middle" fill="#000" stroke="#000" stroke-width="0.12" style="text-rendering:optimizeLegibility">2011</text>
<text transform="translate(244.56,256.1) scale(0.86,1)" font-size="5.4" text-anchor="middle" fill="#000" stroke="#000" stroke-width="0.12" style="text-rendering:optimizeLegibility">2013</text>
<text transform="translate(258.22,256.1) scale(0.86,1)" font-size="5.4" text-anchor="middle" fill="#000" stroke="#000" stroke-width="0.12" style="text-rendering:optimizeLegibility">2015</text>
<text transform="translate(144.20,249.00) rotate(-90)" font-size="7.22" fill="#222" stroke="#222" stroke-width="0.08">Fraction of absorbing AOD (%)</text>
<line x1="162.40" y1="205.8" x2="261.70" y2="204.6" stroke="#ff0000" stroke-width="1.4" stroke-dasharray="3.4 2.3"/>
<line x1="162.40" y1="168.2" x2="261.70" y2="154.9" stroke="#0000ff" stroke-width="1.4" stroke-dasharray="3.4 2.3"/>
<line x1="162.40" y1="170.0" x2="261.70" y2="165.9" stroke="#000000" stroke-width="1.4" stroke-dasharray="3.4 2.3"/>
<polyline points="162.40,168.80 169.49,170.30 176.59,164.90 183.68,165.90 190.77,164.80 197.86,159.90 204.96,162.20 212.05,151.80 219.14,161.90 226.24,157.50 233.33,161.90 240.42,158.90 247.51,157.50 254.61,154.90 261.70,158.20" fill="none" stroke="#0000ff" stroke-width="1.65" stroke-linejoin="round"/>
<circle cx="162.40" cy="168.80" r="1.55" fill="#0000ff"/>
<circle cx="169.49" cy="170.30" r="1.55" fill="#0000ff"/>
<circle cx="176.59" cy="164.90" r="1.55" fill="#0000ff"/>
<circle cx="183.68" cy="165.90" r="1.55" fill="#0000ff"/>
<circle cx="190.77" cy="164.80" r="1.55" fill="#0000ff"/>
<circle cx="197.86" cy="159.90" r="1.55" fill="#0000ff"/>
<circle cx="204.96" cy="162.20" r="1.55" fill="#0000ff"/>
<circle cx="212.05" cy="151.80" r="1.55" fill="#0000ff"/>
<circle cx="219.14" cy="161.90" r="1.55" fill="#0000ff"/>
<circle cx="226.24" cy="157.50" r="1.55" fill="#0000ff"/>
<circle cx="233.33" cy="161.90" r="1.55" fill="#0000ff"/>
<circle cx="240.42" cy="158.90" r="1.55" fill="#0000ff"/>
<circle cx="247.51" cy="157.50" r="1.55" fill="#0000ff"/>
<circle cx="254.61" cy="154.90" r="1.55" fill="#0000ff"/>
<circle cx="261.70" cy="158.20" r="1.55" fill="#0000ff"/>
<polyline points="162.40,169.00 169.49,170.90 176.59,167.40 183.68,170.90 190.77,171.20 197.86,167.70 204.96,172.60 212.05,159.70 219.14,165.90 226.24,169.00 233.33,162.80 240.42,170.80 247.51,167.50 254.61,166.10 261.70,168.50" fill="none" stroke="#000000" stroke-width="1.65" stroke-linejoin="round"/>
<circle cx="162.40" cy="169.00" r="1.55" fill="#000000"/>
<circle cx="169.49" cy="170.90" r="1.55" fill="#000000"/>
<circle cx="176.59" cy="167.40" r="1.55" fill="#000000"/>
<circle cx="183.68" cy="170.90" r="1.55" fill="#000000"/>
<circle cx="190.77" cy="171.20" r="1.55" fill="#000000"/>
<circle cx="197.86" cy="167.70" r="1.55" fill="#000000"/>
<circle cx="204.96" cy="172.60" r="1.55" fill="#000000"/>
<circle cx="212.05" cy="159.70" r="1.55" fill="#000000"/>
<circle cx="219.14" cy="165.90" r="1.55" fill="#000000"/>
<circle cx="226.24" cy="169.00" r="1.55" fill="#000000"/>
<circle cx="233.33" cy="162.80" r="1.55" fill="#000000"/>
<circle cx="240.42" cy="170.80" r="1.55" fill="#000000"/>
<circle cx="247.51" cy="167.50" r="1.55" fill="#000000"/>
<circle cx="254.61" cy="166.10" r="1.55" fill="#000000"/>
<circle cx="261.70" cy="168.50" r="1.55" fill="#000000"/>
<polyline points="162.40,204.50 169.49,208.90 176.59,211.50 183.68,205.80 190.77,205.40 197.86,209.40 204.96,201.90 212.05,196.80 219.14,203.60 226.24,206.50 233.33,208.50 240.42,206.20 247.51,204.10 254.61,208.50 261.70,201.90" fill="none" stroke="#ff0000" stroke-width="1.65" stroke-linejoin="round"/>
<circle cx="162.40" cy="204.50" r="1.55" fill="#ff0000"/>
<circle cx="169.49" cy="208.90" r="1.55" fill="#ff0000"/>
<circle cx="176.59" cy="211.50" r="1.55" fill="#ff0000"/>
<circle cx="183.68" cy="205.80" r="1.55" fill="#ff0000"/>
<circle cx="190.77" cy="205.40" r="1.55" fill="#ff0000"/>
<circle cx="197.86" cy="209.40" r="1.55" fill="#ff0000"/>
<circle cx="204.96" cy="201.90" r="1.55" fill="#ff0000"/>
<circle cx="212.05" cy="196.80" r="1.55" fill="#ff0000"/>
<circle cx="219.14" cy="203.60" r="1.55" fill="#ff0000"/>
<circle cx="226.24" cy="206.50" r="1.55" fill="#ff0000"/>
<circle cx="233.33" cy="208.50" r="1.55" fill="#ff0000"/>
<circle cx="240.42" cy="206.20" r="1.55" fill="#ff0000"/>
<circle cx="247.51" cy="204.10" r="1.55" fill="#ff0000"/>
<circle cx="254.61" cy="208.50" r="1.55" fill="#ff0000"/>
<circle cx="261.70" cy="201.90" r="1.55" fill="#ff0000"/>
<text x="176.8" y="223.80" font-size="6.1" fill="#ff0000" stroke="#ff0000" stroke-width="0.05">ECC</text>
<text x="219.6" y="223.80" font-size="6.1" fill="#ff0000" stroke="#ff0000" stroke-width="0.05">0.004%/yr</text>
<text x="176.8" y="232.30" font-size="6.1" fill="#0000ff" stroke="#0000ff" stroke-width="0.05">EUS</text>
<text x="219.6" y="232.30" font-size="6.1" fill="#0000ff" stroke="#0000ff" stroke-width="0.05">0.030%/yr*</text>
<text x="176.8" y="240.80" font-size="6.1" fill="#111" stroke="#111" stroke-width="0.05">WEU</text>
<text x="219.6" y="240.80" font-size="6.1" fill="#111" stroke="#111" stroke-width="0.05">0.012%/yr</text>
<text x="137.8" y="138.1" font-size="9.0" font-weight="bold" fill="#000">e</text>
<rect x="306.5" y="141.2" width="99.90" height="107.10" fill="none" stroke="#7a7a7a" stroke-width="0.9"/>
<line x1="304.70" y1="141.20" x2="306.5" y2="141.20" stroke="#7a7a7a" stroke-width="0.9"/>
<text x="301.20" y="143.10" font-size="6.1" text-anchor="end" fill="#222" stroke="#222" stroke-width="0.05">0.990</text>
<line x1="304.70" y1="156.50" x2="306.5" y2="156.50" stroke="#7a7a7a" stroke-width="0.9"/>
<text x="301.20" y="158.40" font-size="6.1" text-anchor="end" fill="#222" stroke="#222" stroke-width="0.05">0.985</text>
<line x1="304.70" y1="171.80" x2="306.5" y2="171.80" stroke="#7a7a7a" stroke-width="0.9"/>
<text x="301.20" y="173.70" font-size="6.1" text-anchor="end" fill="#222" stroke="#222" stroke-width="0.05">0.980</text>
<line x1="304.70" y1="187.10" x2="306.5" y2="187.10" stroke="#7a7a7a" stroke-width="0.9"/>
<text x="301.20" y="189.00" font-size="6.1" text-anchor="end" fill="#222" stroke="#222" stroke-width="0.05">0.975</text>
<line x1="304.70" y1="202.40" x2="306.5" y2="202.40" stroke="#7a7a7a" stroke-width="0.9"/>
<text x="301.20" y="204.30" font-size="6.1" text-anchor="end" fill="#222" stroke="#222" stroke-width="0.05">0.970</text>
<line x1="304.70" y1="217.70" x2="306.5" y2="217.70" stroke="#7a7a7a" stroke-width="0.9"/>
<text x="301.20" y="219.60" font-size="6.1" text-anchor="end" fill="#222" stroke="#222" stroke-width="0.05">0.965</text>
<line x1="304.70" y1="233.00" x2="306.5" y2="233.00" stroke="#7a7a7a" stroke-width="0.9"/>
<text x="301.20" y="234.90" font-size="6.1" text-anchor="end" fill="#222" stroke="#222" stroke-width="0.05">0.960</text>
<line x1="304.70" y1="248.30" x2="306.5" y2="248.30" stroke="#7a7a7a" stroke-width="0.9"/>
<text x="301.20" y="250.20" font-size="6.1" text-anchor="end" fill="#222" stroke="#222" stroke-width="0.05">0.955</text>
<line x1="306.50" y1="248.3" x2="306.50" y2="250.10" stroke="#7a7a7a" stroke-width="0.9"/>
<line x1="320.77" y1="248.3" x2="320.77" y2="250.10" stroke="#7a7a7a" stroke-width="0.9"/>
<line x1="335.04" y1="248.3" x2="335.04" y2="250.10" stroke="#7a7a7a" stroke-width="0.9"/>
<line x1="349.31" y1="248.3" x2="349.31" y2="250.10" stroke="#7a7a7a" stroke-width="0.9"/>
<line x1="363.59" y1="248.3" x2="363.59" y2="250.10" stroke="#7a7a7a" stroke-width="0.9"/>
<line x1="377.86" y1="248.3" x2="377.86" y2="250.10" stroke="#7a7a7a" stroke-width="0.9"/>
<line x1="392.13" y1="248.3" x2="392.13" y2="250.10" stroke="#7a7a7a" stroke-width="0.9"/>
<line x1="406.40" y1="248.3" x2="406.40" y2="250.10" stroke="#7a7a7a" stroke-width="0.9"/>
<text transform="translate(307.60,256.1) scale(0.86,1)" font-size="5.4" text-anchor="middle" fill="#000" stroke="#000" stroke-width="0.12" style="text-rendering:optimizeLegibility">2001</text>
<text transform="translate(321.30,256.1) scale(0.86,1)" font-size="5.4" text-anchor="middle" fill="#000" stroke="#000" stroke-width="0.12" style="text-rendering:optimizeLegibility">2003</text>
<text transform="translate(335.00,256.1) scale(0.86,1)" font-size="5.4" text-anchor="middle" fill="#000" stroke="#000" stroke-width="0.12" style="text-rendering:optimizeLegibility">2005</text>
<text transform="translate(348.70,256.1) scale(0.86,1)" font-size="5.4" text-anchor="middle" fill="#000" stroke="#000" stroke-width="0.12" style="text-rendering:optimizeLegibility">2007</text>
<text transform="translate(362.40,256.1) scale(0.86,1)" font-size="5.4" text-anchor="middle" fill="#000" stroke="#000" stroke-width="0.12" style="text-rendering:optimizeLegibility">2009</text>
<text transform="translate(376.10,256.1) scale(0.86,1)" font-size="5.4" text-anchor="middle" fill="#000" stroke="#000" stroke-width="0.12" style="text-rendering:optimizeLegibility">2011</text>
<text transform="translate(389.80,256.1) scale(0.86,1)" font-size="5.4" text-anchor="middle" fill="#000" stroke="#000" stroke-width="0.12" style="text-rendering:optimizeLegibility">2013</text>
<text transform="translate(403.50,256.1) scale(0.86,1)" font-size="5.4" text-anchor="middle" fill="#000" stroke="#000" stroke-width="0.12" style="text-rendering:optimizeLegibility">2015</text>
<text transform="translate(281.00,241.80) rotate(-90)" font-size="7.22" fill="#222" stroke="#222" stroke-width="0.08">Single scattering albedo</text>
<line x1="306.50" y1="160.6" x2="406.40" y2="164.2" stroke="#ff0000" stroke-width="1.4" stroke-dasharray="3.4 2.3"/>
<line x1="306.50" y1="198.3" x2="406.40" y2="216.1" stroke="#0000ff" stroke-width="1.4" stroke-dasharray="3.4 2.3"/>
<line x1="306.50" y1="186.0" x2="406.40" y2="192.8" stroke="#000000" stroke-width="1.4" stroke-dasharray="3.4 2.3"/>
<polyline points="306.50,195.00 313.64,201.20 320.77,204.30 327.91,205.90 335.04,202.80 342.18,212.50 349.31,203.90 356.45,217.10 363.59,207.80 370.72,212.20 377.86,207.80 384.99,212.20 392.13,213.80 399.26,215.50 406.40,215.90" fill="none" stroke="#0000ff" stroke-width="1.65" stroke-linejoin="round"/>
<circle cx="306.50" cy="195.00" r="1.55" fill="#0000ff"/>
<circle cx="313.64" cy="201.20" r="1.55" fill="#0000ff"/>
<circle cx="320.77" cy="204.30" r="1.55" fill="#0000ff"/>
<circle cx="327.91" cy="205.90" r="1.55" fill="#0000ff"/>
<circle cx="335.04" cy="202.80" r="1.55" fill="#0000ff"/>
<circle cx="342.18" cy="212.50" r="1.55" fill="#0000ff"/>
<circle cx="349.31" cy="203.90" r="1.55" fill="#0000ff"/>
<circle cx="356.45" cy="217.10" r="1.55" fill="#0000ff"/>
<circle cx="363.59" cy="207.80" r="1.55" fill="#0000ff"/>
<circle cx="370.72" cy="212.20" r="1.55" fill="#0000ff"/>
<circle cx="377.86" cy="207.80" r="1.55" fill="#0000ff"/>
<circle cx="384.99" cy="212.20" r="1.55" fill="#0000ff"/>
<circle cx="392.13" cy="213.80" r="1.55" fill="#0000ff"/>
<circle cx="399.26" cy="215.50" r="1.55" fill="#0000ff"/>
<circle cx="406.40" cy="215.90" r="1.55" fill="#0000ff"/>
<polyline points="306.50,187.90 313.64,186.60 320.77,187.90 327.91,187.50 335.04,187.50 342.18,188.90 349.31,184.20 356.45,197.80 363.59,191.50 370.72,190.20 377.86,191.50 384.99,186.60 392.13,193.20 399.26,194.60 406.40,190.60" fill="none" stroke="#000000" stroke-width="1.65" stroke-linejoin="round"/>
<circle cx="306.50" cy="187.90" r="1.55" fill="#000000"/>
<circle cx="313.64" cy="186.60" r="1.55" fill="#000000"/>
<circle cx="320.77" cy="187.90" r="1.55" fill="#000000"/>
<circle cx="327.91" cy="187.50" r="1.55" fill="#000000"/>
<circle cx="335.04" cy="187.50" r="1.55" fill="#000000"/>
<circle cx="342.18" cy="188.90" r="1.55" fill="#000000"/>
<circle cx="349.31" cy="184.20" r="1.55" fill="#000000"/>
<circle cx="356.45" cy="197.80" r="1.55" fill="#000000"/>
<circle cx="363.59" cy="191.50" r="1.55" fill="#000000"/>
<circle cx="370.72" cy="190.20" r="1.55" fill="#000000"/>
<circle cx="377.86" cy="191.50" r="1.55" fill="#000000"/>
<circle cx="384.99" cy="186.60" r="1.55" fill="#000000"/>
<circle cx="392.13" cy="193.20" r="1.55" fill="#000000"/>
<circle cx="399.26" cy="194.60" r="1.55" fill="#000000"/>
<circle cx="406.40" cy="190.60" r="1.55" fill="#000000"/>
<polyline points="306.50,160.20 313.64,158.60 320.77,157.50 327.91,158.90 335.04,161.10 342.18,158.50 349.31,168.50 356.45,171.80 363.59,162.80 370.72,161.50 377.86,161.10 384.99,163.80 392.13,163.50 399.26,160.20 406.40,164.60" fill="none" stroke="#ff0000" stroke-width="1.65" stroke-linejoin="round"/>
<circle cx="306.50" cy="160.20" r="1.55" fill="#ff0000"/>
<circle cx="313.64" cy="158.60" r="1.55" fill="#ff0000"/>
<circle cx="320.77" cy="157.50" r="1.55" fill="#ff0000"/>
<circle cx="327.91" cy="158.90" r="1.55" fill="#ff0000"/>
<circle cx="335.04" cy="161.10" r="1.55" fill="#ff0000"/>
<circle cx="342.18" cy="158.50" r="1.55" fill="#ff0000"/>
<circle cx="349.31" cy="168.50" r="1.55" fill="#ff0000"/>
<circle cx="356.45" cy="171.80" r="1.55" fill="#ff0000"/>
<circle cx="363.59" cy="162.80" r="1.55" fill="#ff0000"/>
<circle cx="370.72" cy="161.50" r="1.55" fill="#ff0000"/>
<circle cx="377.86" cy="161.10" r="1.55" fill="#ff0000"/>
<circle cx="384.99" cy="163.80" r="1.55" fill="#ff0000"/>
<circle cx="392.13" cy="163.50" r="1.55" fill="#ff0000"/>
<circle cx="399.26" cy="160.20" r="1.55" fill="#ff0000"/>
<circle cx="406.40" cy="164.60" r="1.55" fill="#ff0000"/>
<text x="316.0" y="223.80" font-size="6.1" fill="#ff0000" stroke="#ff0000" stroke-width="0.05">ECC</text>
<text x="359.6" y="223.80" font-size="6.1" fill="#ff0000" stroke="#ff0000" stroke-width="0.05">-0.0001/yr</text>
<text x="316.0" y="232.30" font-size="6.1" fill="#0000ff" stroke="#0000ff" stroke-width="0.05">EUS</text>
<text x="359.6" y="232.30" font-size="6.1" fill="#0000ff" stroke="#0000ff" stroke-width="0.05">-0.0004/yr*</text>
<text x="316.0" y="240.80" font-size="6.1" fill="#111" stroke="#111" stroke-width="0.05">WEU</text>
<text x="359.6" y="240.80" font-size="6.1" fill="#111" stroke="#111" stroke-width="0.05">-0.0002/yr*</text>
<text x="274.3" y="138.3" font-size="9.0" font-weight="bold" fill="#000">f</text>
</svg>
</body></html>
